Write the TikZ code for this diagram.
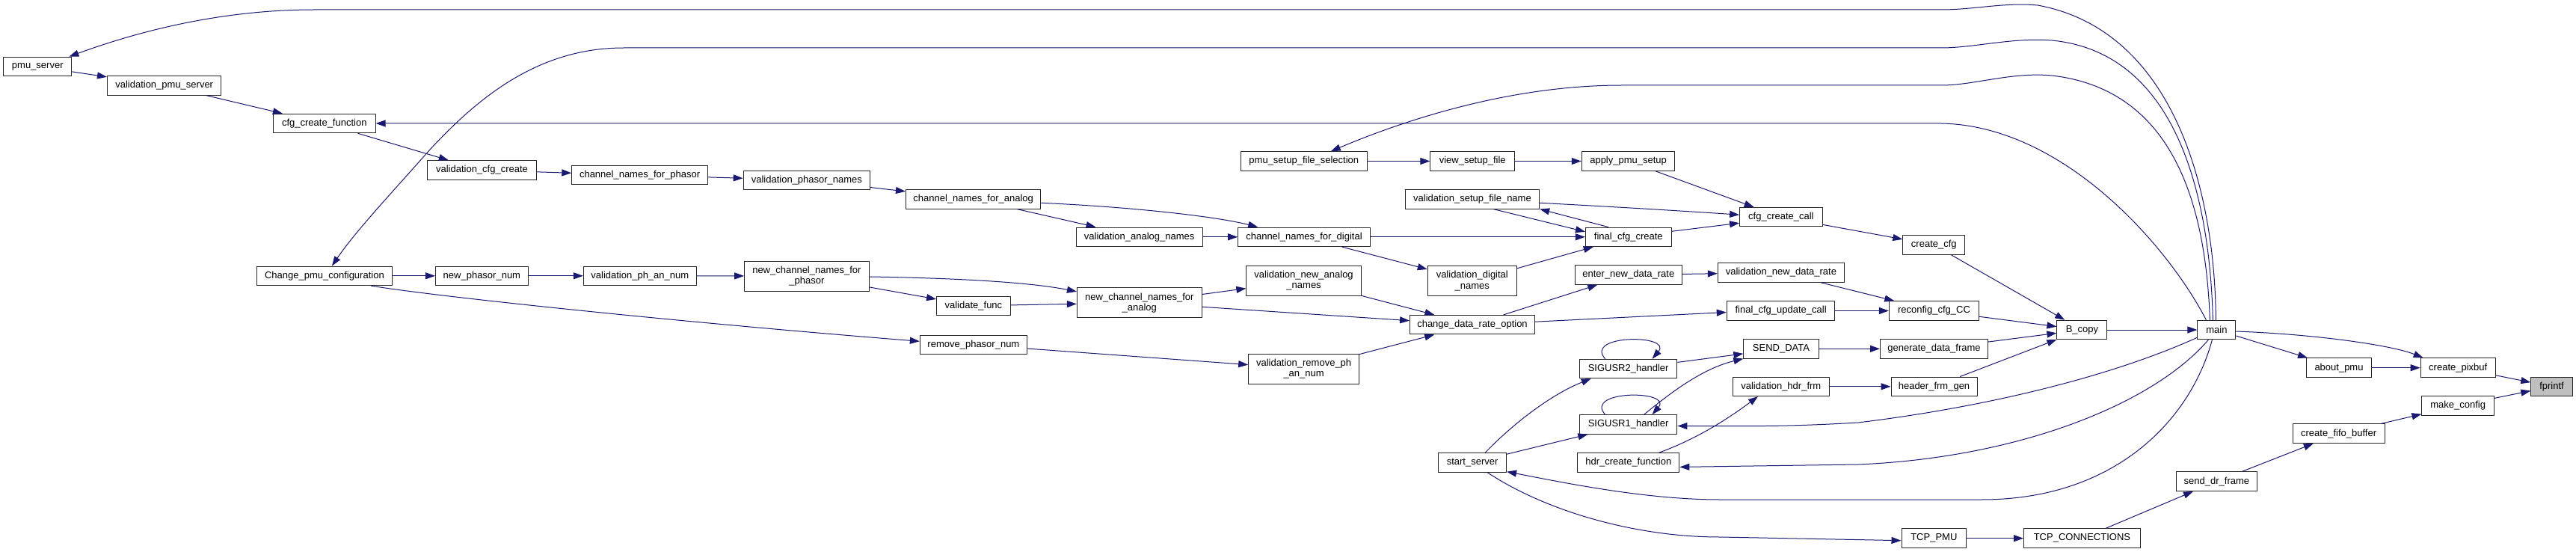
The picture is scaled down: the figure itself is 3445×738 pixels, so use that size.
\documentclass[tikz,border=0pt]{standalone}
\usepackage{fontspec}
\setmainfont{Liberation Sans}
\usetikzlibrary{arrows.meta,calc}
\definecolor{edgeblue}{HTML}{191970}
\definecolor{rootgrey}{HTML}{BFBFBF}
\tikzset{
 fn/.style={draw=black!85, line width=1pt, fill=white, inner sep=0pt, minimum height=25.5pt, font=\fontsize{13}{14.3}\selectfont, align=center},
 fntwo/.style={fn, minimum height=40pt},
 edge/.style={draw=edgeblue, line width=1pt, -{Triangle[length=13pt,width=9pt]}},
}
\begin{document}
\begin{tikzpicture}[x=1pt,y=-1pt]
\fill[white] (0,0) rectangle (3445,738);
\useasboundingbox (0,0) rectangle (3445,738);
% nodes
\node[fn, minimum width=91pt] (ps) at (50.3,89) {pmu\_server};
\node[fn, minimum width=152.4pt] (vps) at (219.7,114.3) {validation\_pmu\_server};
\node[fn, minimum width=136.5pt] (cff) at (433.8,165) {cfg\_create\_function};
\node[fn, minimum width=180.6pt] (cpc) at (433.9,368.8) {Change\_pmu\_configuration};
\node[fn, minimum width=145.9pt] (vcc) at (644.5,227.5) {validation\_cfg\_create};
\node[fn, minimum width=181.6pt] (cnp) at (855.6,234.2) {channel\_names\_for\_phasor};
\node[fn, minimum width=169.5pt] (vpn) at (1078.9,240.8) {validation\_phasor\_names};
\node[fn, minimum width=180.5pt] (cna) at (1301.7,266.3) {channel\_names\_for\_analog};
\node[fn, minimum width=168.7pt] (van) at (1523.7,316.8) {validation\_analog\_names};
\node[fn, minimum width=176.6pt] (cnd) at (1744,316.8) {channel\_names\_for\_digital};
\node[fn, minimum width=169.6pt] (psfs) at (1743.8,215.5) {pmu\_setup\_file\_selection};
\node[fn, minimum width=112.5pt] (vsf) at (1969.2,215.5) {view\_setup\_file};
\node[fn, minimum width=124.6pt] (aps) at (2177.6,215.5) {apply\_pmu\_setup};
\node[fn, minimum width=179.4pt] (vsfn) at (1969,266.3) {validation\_setup\_file\_name};
\node[fn, minimum width=114.7pt] (fcc) at (2177.8,316.8) {final\_cfg\_create};
\node[fntwo, minimum width=119.1pt, minimum height=39.5pt] (vdn) at (1968.8,375.7) {validation\_digital\\\_names};
\node[fn, minimum width=142.8pt] (endr) at (2177.8,367.5) {enter\_new\_data\_rate};
\node[fn, minimum width=169.2pt] (vndr) at (2381.9,364.5) {validation\_new\_data\_rate};
\node[fn, minimum width=166.9pt] (cdro) at (1969,434.2) {change\_data\_rate\_option};
\node[fn, minimum width=130.6pt] (s2) at (2177.6,493) {SIGUSR2\_handler};
\node[fn, minimum width=130.6pt] (s1) at (2177.6,567.5) {SIGUSR1\_handler};
\node[fn, minimum width=91pt] (ss) at (1969.1,618.4) {start\_server};
\node[fn, minimum width=136.1pt] (hcf) at (2177.8,618.4) {hdr\_create\_function};
\node[fn, minimum width=110.6pt] (ccc) at (2381.9,290.2) {cfg\_create\_call};
\node[fn, minimum width=82.8pt] (ccfg) at (2586.3,327.5) {create\_cfg};
\node[fn, minimum width=144.7pt] (fcuc) at (2381.6,415.5) {final\_cfg\_update\_call};
\node[fn, minimum width=120.2pt] (rcc) at (2586.5,415.5) {reconfig\_cfg\_CC};
\node[fn, minimum width=67pt] (bc) at (2784.4,441) {B\_copy};
\node[fn, minimum width=100.3pt] (sd) at (2382,466.3) {SEND\_DATA};
\node[fn, minimum width=143.9pt] (gdf) at (2586.5,466.3) {generate\_data\_frame};
\node[fn, minimum width=128.7pt] (vhf) at (2381.8,516.8) {validation\_hdr\_frm};
\node[fn, minimum width=115pt] (hfg) at (2586.5,516.8) {header\_frm\_gen};
\node[fn, minimum width=86.6pt] (tpmu) at (2586.3,719.7) {TCP\_PMU};
\node[fn, minimum width=155.8pt] (tcpc) at (2784.4,719.7) {TCP\_CONNECTIONS};
\node[fn, minimum width=51pt] (main) at (2964.4,441) {main};
\node[fn, minimum width=86.9pt] (ab) at (3128,491.7) {about\_pmu};
\node[fn, minimum width=100.1pt] (cpb) at (3287.2,491.7) {create\_pixbuf};
\node[fn, minimum width=55.4pt, fill=rootgrey] (fp) at (3412.5,516.8) {fprintf};
\node[fn, minimum width=96.4pt] (mc) at (3287.1,542.3) {make\_config};
\node[fn, minimum width=122.8pt] (cfb) at (3127.6,579.7) {create\_fifo\_buffer};
\node[fn, minimum width=108.2pt] (sdf) at (2964.4,643.7) {send\_dr\_frame};
\node[fntwo, minimum width=166.6pt] (ncp) at (1078.9,369) {new\_channel\_names\_for\\\_phasor};
\node[fn, minimum width=123.9pt] (npn) at (644.4,368.8) {new\_phasor\_num};
\node[fn, minimum width=150.9pt] (vpan) at (855.8,368.8) {validation\_ph\_an\_num};
\node[fntwo, minimum width=166.8pt, minimum height=40.3pt] (ncn) at (1523.8,404.8) {new\_channel\_names\_for\\\_analog};
\node[fn, minimum width=98.7pt] (vf) at (1301.9,408.8) {validate\_func};
\node[fn, minimum width=143.1pt] (rpn) at (1301.9,460.8) {remove\_phasor\_num};
\node[fntwo, minimum width=153.6pt, minimum height=40.3pt] (vnan) at (1743.6,375.2) {validation\_new\_analog\\\_names};
\node[fntwo, minimum width=147.8pt] (vrpan) at (1743.6,493) {validation\_remove\_ph\\\_an\_num};

% long top edges from main
\draw[edge] ($(main.north)+(-1,0)$) .. controls (2962,250) and (2905,40) .. (2725,7) .. controls (2680,3) and (2640,13) .. (2596,13) -- (420,13) .. controls (300,13) and (190,40) .. ($(ps.north east)+(-4,0)$);
\draw[edge] ($(main.north)+(-5,0)$) .. controls (2955,260) and (2910,70) .. (2744,54) .. controls (2690,50) and (2640,64) .. (2596,64) -- (834,64) .. controls (720,64) and (640,130) .. (575,200) .. controls (520,262) and (475,310) .. ($(cpc.north)+(10,0)$);
\draw[edge] ($(main.north)+(-9,0)$) .. controls (2950,280) and (2910,120) .. (2744,101) .. controls (2690,96) and (2640,114) .. (2596,114) -- (2169,114) .. controls (2020,114) and (1880,160) .. ($(psfs.north)+(36,0)$);
\draw[edge] ($(main.north)+(-14,0)$) .. controls (2900,330) and (2760,168) .. (2596,165) -- (cff.east);

% right part
\draw[edge] ($(main.east)+(0,2)$) .. controls (3100,447) and (3200,462) .. ($(cpb.north west)+(4,0)$);
\draw[edge] ($(main.east)+(0,8)$) -- ($(ab.north west)+(2,0)$);
\draw[edge] (ab) -- (cpb);
\draw[edge] (cpb) -- (fp);
\draw[edge] (mc) -- (fp);
\draw[edge] (cfb) -- (mc);
\draw[edge] (sdf) -- (cfb);
\draw[edge] (tcpc) -- (sdf);
\draw[edge] (tpmu) -- (tcpc);
\draw[edge] ($(ss.south)+(20,0)$) .. controls (2070,685) and (2190,718) .. (2300,718) -- ($(tpmu.west)+(0,3)$);
\draw[edge] ($(main.south)+(-6,0)$) .. controls (2930,560) and (2830,668) .. (2650,668) -- (2300,668) .. controls (2200,668) and (2090,645) .. ($(ss.south east)+(0,-1)$);
\draw[edge] ($(main.south)+(-11,0)$) .. controls (2880,540) and (2700,612) .. (2485,621) -- ($(hcf.east)+(0,6)$);
\draw[edge] ($(main.south west)+(0,-3)$) .. controls (2820,505) and (2650,545) .. (2485,565) .. controls (2400,570) and (2350,570) .. ($(s1.east)+(0,2)$);
\draw[edge] (bc) -- (main);

% B_copy inputs
\draw[edge] (ccfg) -- (bc);
\draw[edge] (rcc) -- (bc);
\draw[edge] (gdf) -- (bc);
\draw[edge] (hfg) -- (bc);
\draw[edge] (ccc) -- (ccfg);
\draw[edge] (vndr) -- (rcc);
\draw[edge] (fcuc) -- (rcc);
\draw[edge] (sd) -- (gdf);
\draw[edge] (vhf) -- (hfg);
\draw[edge] (endr) -- (vndr);
\draw[edge] (cdro) -- (endr);
\draw[edge] ($(cdro.east)+(0,-4)$) -- ($(fcuc.west)+(0,2)$);

% signal handlers
\draw[edge] (s2) -- (sd);
\draw[edge] ($(s1.north)+(21,0)$) .. controls (2240,520) and (2280,492) .. (sd.south west);
\draw[edge] ($(s2.north)+(-31,0)$) .. controls ($(s2.north)+(-60,-33)$) and ($(s2.north)+(60,-33)$) .. ($(s2.north)+(32,0)$);
\draw[edge] ($(s1.north)+(-31,0)$) .. controls ($(s1.north)+(-60,-33)$) and ($(s1.north)+(60,-33)$) .. ($(s1.north)+(32,0)$);
\draw[edge] ($(ss.north)+(17,0)$) .. controls (2030,560) and (2080,525) .. ($(s2.south west)+(16,0)$);
\draw[edge] (ss) -- (s1);
\draw[edge] ($(hcf.north)+(41,0)$) .. controls (2260,590) and (2300,568) .. ($(vhf.south west)+(34,0)$);

% cfg chain
\draw[edge] (aps) -- (ccc);
\draw[edge] ($(vsfn.east)+(0,5)$) .. controls (2150,276) and (2250,282) .. ($(ccc.west)+(0,-3)$);
\draw[edge] ($(fcc.east)+(0,-7.5)$) -- ($(ccc.west)+(0,8)$);
\draw[edge] ($(fcc.north)+(-27,0)$) -- (vsfn.south east);
\draw[edge] ($(vsfn.south)+(28,0)$) -- ($(fcc.west)+(0,-7)$);
\draw[edge] (cnd) -- (fcc);
\draw[edge] (vdn) -- (fcc);
\draw[edge] (cnd) -- (vdn);
\draw[edge] (psfs) -- (vsf);
\draw[edge] (vsf) -- (aps);
\draw[edge] (van) -- (cnd);
\draw[edge] (cna) -- (van);
\draw[edge] ($(cna.east)+(0,5)$) .. controls (1500,276) and (1620,288) .. ($(cnd.north west)+(27,0)$);
\draw[edge] (vpn) -- (cna);
\draw[edge] (cnp) -- (vpn);
\draw[edge] (vcc) -- (cnp);
\draw[edge] (cff) -- (vcc);
\draw[edge] (vps) -- (cff);
\draw[edge] (ps) -- (vps);

% change pmu configuration chain
\draw[edge] (cpc) -- (npn);
\draw[edge] (npn) -- (vpan);
\draw[edge] (vpan) -- (ncp);
\draw[edge] ($(cpc.south)+(62,0)$) .. controls (580,396) and (900,430) .. ($(rpn.west)+(0,-4.5)$);
\draw[edge] ($(ncp.east)+(0,1)$) .. controls (1290,372) and (1380,378) .. ($(ncn.west)+(0,-15)$);
\draw[edge] (ncp) -- (vf);
\draw[edge] (vf) -- (ncn);
\draw[edge] (ncn) -- (vnan);
\draw[edge] ($(ncn.east)+(0,5.5)$) -- ($(cdro.west)+(0,-5.5)$);
\draw[edge] (vnan) -- (cdro);
\draw[edge] (rpn) -- (vrpan);
\draw[edge] (vrpan) -- (cdro);
\end{tikzpicture}
\end{document}
